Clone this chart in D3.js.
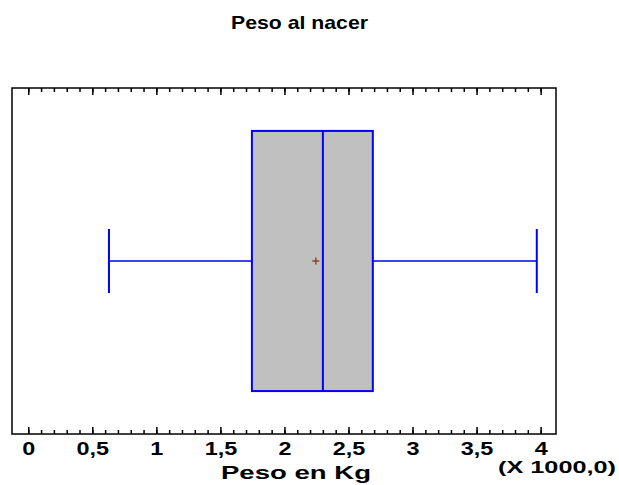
<!DOCTYPE html>
<html>
<head>
<meta charset="utf-8">
<script src="https://cdn.jsdelivr.net/npm/d3@7"></script>
<style>
body { margin: 0; background: #fff; }
text { font-family: "Liberation Sans", Arial, sans-serif; font-weight: bold; }
</style>
</head>
<body>
<script>
// data (values in thousands of grams)
var categories = ["Peso al nacer"];
var statNames = ["min", "q1", "median", "q3", "max", "mean"];
var statValues = [0.63, 1.746, 2.30, 2.69, 3.97, 2.245];
var majorTicks = [0, 0.5, 1, 1.5, 2, 2.5, 3, 3.5, 4];
var tickLabels = ["0", "0,5", "1", "1,5", "2", "2,5", "3", "3,5", "4"];
var minorTicks = d3.range(0, 41).map(function(i){ return i / 10; });

window.onload = drawChart();

function drawChart(){
	var width = 619,
		height = 485;
	var left = 12, right = 556, top = 88, bottom = 434;

	var svg = d3.select("body")
		.append("svg")
		.attr("width", width)
		.attr("height", height);

	var s = {};
	statNames.forEach(function(n, i){ s[n] = statValues[i]; });

	var x = d3.scaleLinear()
		.domain([-0.127, 4.12])
		.range([left, right]);

	var y = d3.scaleBand()
		.domain(categories)
		.range([top, bottom])
		.paddingInner(0)
		.paddingOuter(0.165);

	//the reference text is wide, stretch it to the measured widths
	function wide(sel, len){
		sel.attr("textLength", len).attr("lengthAdjust", "spacingAndGlyphs");
	}

	//title
	svg.append("text")
		.attr("x", 299.5)
		.attr("y", 29)
		.attr("text-anchor", "middle")
		.style("font-size", "19px")
		.text(categories[0])
		.call(wide, 137);

	//frame
	svg.append("rect")
		.attr("x", left)
		.attr("y", top)
		.attr("width", right - left)
		.attr("height", bottom - top)
		.attr("fill", "none")
		.attr("stroke", "#000")
		.attr("stroke-width", 1.5);

	//ticks, top (pointing down) and bottom (pointing up)
	function tickAxis(g, axis){
		g.call(axis);
		g.select(".domain").remove();
		g.selectAll("text").remove();
		g.selectAll("line").attr("stroke", "#000").attr("stroke-width", 1.5);
	}
	svg.append("g").attr("transform", "translate(0," + top + ")")
		.call(tickAxis, d3.axisBottom(x).tickValues(minorTicks).tickSizeInner(4).tickSizeOuter(0));
	svg.append("g").attr("transform", "translate(0," + top + ")")
		.call(tickAxis, d3.axisBottom(x).tickValues(majorTicks).tickSizeInner(7).tickSizeOuter(0));
	svg.append("g").attr("transform", "translate(0," + bottom + ")")
		.call(tickAxis, d3.axisTop(x).tickValues(minorTicks).tickSizeInner(4).tickSizeOuter(0));
	svg.append("g").attr("transform", "translate(0," + bottom + ")")
		.call(tickAxis, d3.axisTop(x).tickValues(majorTicks).tickSizeInner(7).tickSizeOuter(0));

	//tick labels
	var labels = svg.append("g")
		.attr("transform", "translate(0," + bottom + ")")
		.call(d3.axisBottom(x).tickValues(majorTicks).tickSize(0).tickPadding(8)
			.tickFormat(function(d, i){ return tickLabels[i]; }));
	labels.select(".domain").remove();
	labels.selectAll("text")
		.style("font-size", "18px")
		.style("font-family", "'Liberation Sans', Arial, sans-serif")
		.style("font-weight", "bold")
		.attr("fill", "#000")
		.each(function(){
			var t = d3.select(this);
			t.call(wide, this.getComputedTextLength() * 1.3);
		});

	//axis title and multiplier
	svg.append("text")
		.attr("x", 296)
		.attr("y", 479)
		.attr("text-anchor", "middle")
		.style("font-size", "19px")
		.text("Peso en Kg")
		.call(wide, 150);
	svg.append("text")
		.attr("x", 616)
		.attr("y", 473)
		.attr("text-anchor", "end")
		.style("font-size", "17px")
		.text("(X 1000,0)")
		.call(wide, 118);

	//box plot
	var cy = y(categories[0]) + y.bandwidth() / 2;
	var capH = y.bandwidth() * 0.246;
	var blue = "#0000ff";

	svg.append("line")
		.attr("x1", x(s.min)).attr("x2", x(s.q1))
		.attr("y1", cy).attr("y2", cy)
		.attr("stroke", blue).attr("stroke-width", 1.5);
	svg.append("line")
		.attr("x1", x(s.q3)).attr("x2", x(s.max))
		.attr("y1", cy).attr("y2", cy)
		.attr("stroke", blue).attr("stroke-width", 1.5);
	[s.min, s.max].forEach(function(v){
		svg.append("line")
			.attr("x1", x(v)).attr("x2", x(v))
			.attr("y1", cy - capH / 2).attr("y2", cy + capH / 2)
			.attr("stroke", blue).attr("stroke-width", 2);
	});

	svg.append("rect")
		.attr("x", x(s.q1))
		.attr("y", y(categories[0]))
		.attr("width", x(s.q3) - x(s.q1))
		.attr("height", y.bandwidth())
		.attr("fill", "#c0c0c0")
		.attr("stroke", blue)
		.attr("stroke-width", 2);

	svg.append("line")
		.attr("x1", x(s.median)).attr("x2", x(s.median))
		.attr("y1", y(categories[0])).attr("y2", y(categories[0]) + y.bandwidth())
		.attr("stroke", blue).attr("stroke-width", 2);

	//mean marker
	var mx = x(s.mean);
	svg.append("path")
		.attr("d", "M" + (mx - 3.5) + "," + cy + "H" + (mx + 3.5) + "M" + mx + "," + (cy - 3.5) + "V" + (cy + 3.5))
		.attr("stroke", "#8b4a20")
		.attr("stroke-width", 1.5);
};
</script>
</body>
</html>
